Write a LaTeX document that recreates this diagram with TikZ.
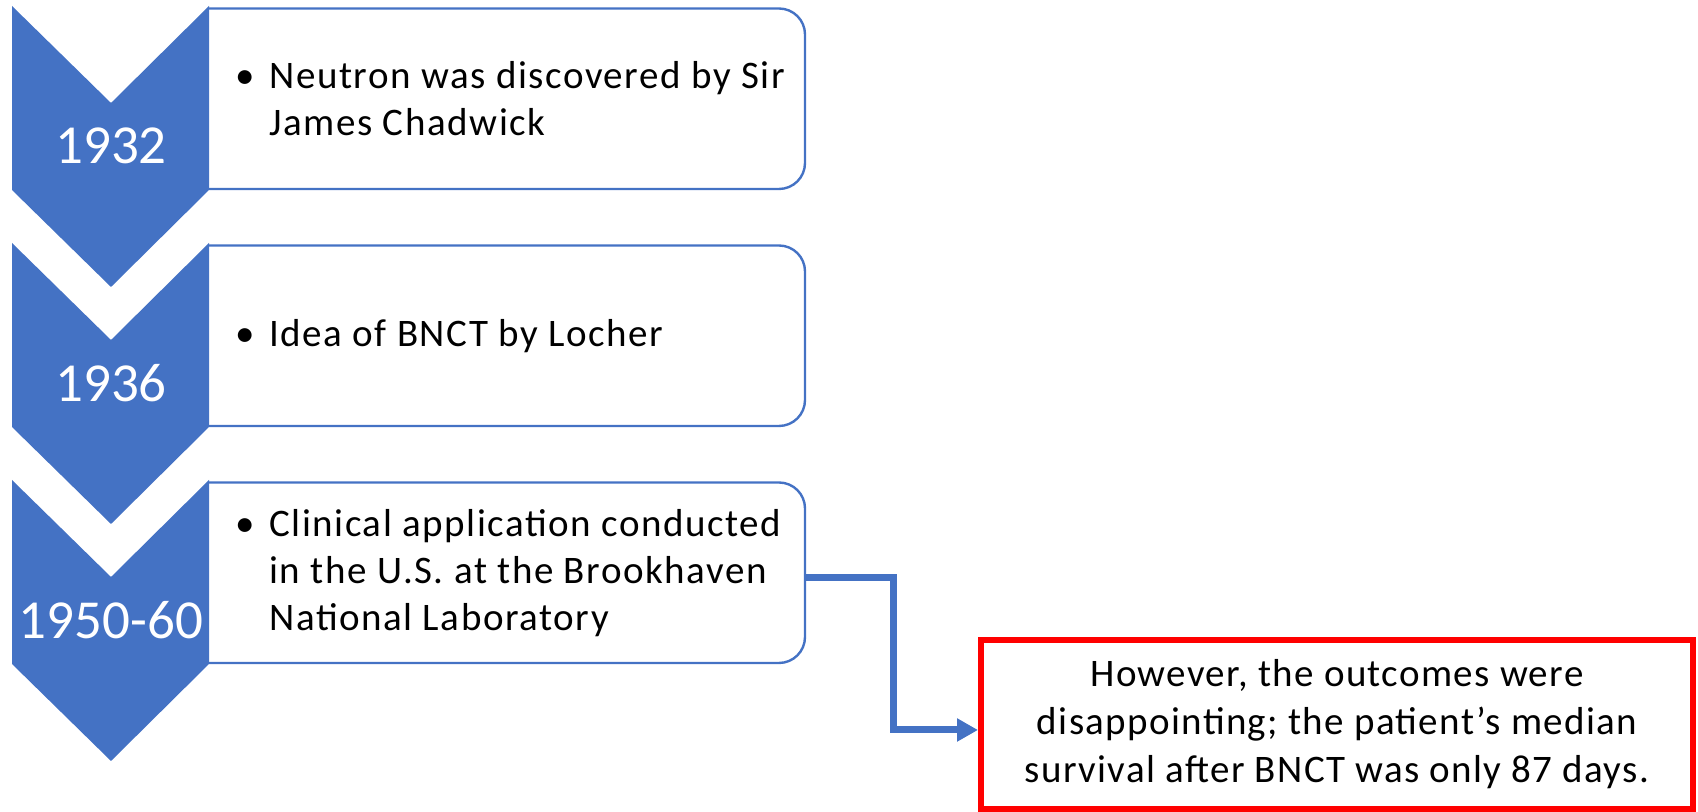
\documentclass[tikz,border=0pt]{standalone}
\usepackage{fontspec}
\setmainfont{Carlito}
\newfontfamily\boxfont[LetterSpace=4]{Carlito}
\newfontfamily\notefont[LetterSpace=3.5]{Carlito}
\usepackage{xcolor}
\usepackage{tikz}
\usetikzlibrary{positioning,arrows.meta,calc}

\definecolor{chevblue}{HTML}{4472C4}
\definecolor{notered}{HTML}{FF0000}

\tikzset{
  chevron/.style={fill=chevblue,draw=none},
  yearlabel/.style={text=white,inner sep=0pt,font=\fontsize{27.5}{33}\selectfont},
  itembox/.style={minimum width=298pt,minimum height=90.25pt,inner sep=0pt,outer sep=0pt},
  boxline/.style={draw=chevblue,line width=1.2pt},
  itemtext/.style={align=left,inner sep=0pt,font=\boxfont\fontsize{19.5}{23.5}\selectfont},
  notebox/.style={draw=notered,line width=3pt,minimum width=356pt,minimum height=84.5pt,
    align=center,font=\notefont\fontsize{19.5}{24}\selectfont},
  link/.style={draw=chevblue,line width=3.5pt,-{Triangle[length=10.5pt,width=11pt]}}
}
\newcommand{\itembul}{\makebox[17pt][l]{\textbullet}}
\newcommand{\itemind}{\hspace*{17pt}}

\begin{document}
\begin{tikzpicture}[x=0.5pt,y=0.5pt]
\useasboundingbox (0,0) rectangle (1698,812);
% boxes
\node[itembox] (box1) at (507,713.25) {};
\node[itembox] (box2) at (507,476.25) {};
\node[itembox] (box3) at (507,239.25) {};
\draw[boxline] (box1.north west) -- ([xshift=-13pt]box1.north east) arc[start angle=90,end angle=0,radius=26]
  -- ([yshift=13pt]box1.south east) arc[start angle=0,end angle=-90,radius=26] -- (box1.south west);
\draw[boxline] (box2.north west) -- ([xshift=-13pt]box2.north east) arc[start angle=90,end angle=0,radius=26]
  -- ([yshift=13pt]box2.south east) arc[start angle=0,end angle=-90,radius=26] -- (box2.south west);
\draw[boxline] (box3.north west) -- ([xshift=-13pt]box3.north east) arc[start angle=90,end angle=0,radius=26]
  -- ([yshift=13pt]box3.south east) arc[start angle=0,end angle=-90,radius=26] -- (box3.south west);
% chevrons
\draw[chevron] (12,806) -- (111,709) -- (209,806) -- (209,622) -- (111,525) -- (12,622) -- cycle;
\draw[chevron] (12,569) -- (111,472) -- (209,569) -- (209,385) -- (111,288) -- (12,385) -- cycle;
\draw[chevron] (12,332) -- (111,235) -- (209,332) -- (209,148) -- (111,51) -- (12,148) -- cycle;
\node[yearlabel] (year1) at (111,666) {1932};
\node[yearlabel] (year2) at (111,429) {1936};
\node[yearlabel] (year3) at (111,192) {1950-60};
% texts
\node[itemtext,right=13pt of box1.west] (item1) {\itembul Neutron was discovered by Sir\\ \itemind James Chadwick};
\node[itemtext,right=13pt of box2.west] (item2) {\itembul Idea of BNCT by Locher};
\node[itemtext,right=13pt of box3.west] (item3) {\itembul Clinical application conducted\\ \itemind in the U.S. at the Brookhaven\\ \itemind National Laboratory};
% outcome
\node[notebox] (note) at (1337,87.5) {However, the outcomes were\\disappointing; the patient’s median\\survival after BNCT was only 87 days.};
\draw[link] ([yshift=-2.5pt]box3.east) -- ++(88,0) |- ([yshift=-2.75pt]note.west);
\end{tikzpicture}
\end{document}
